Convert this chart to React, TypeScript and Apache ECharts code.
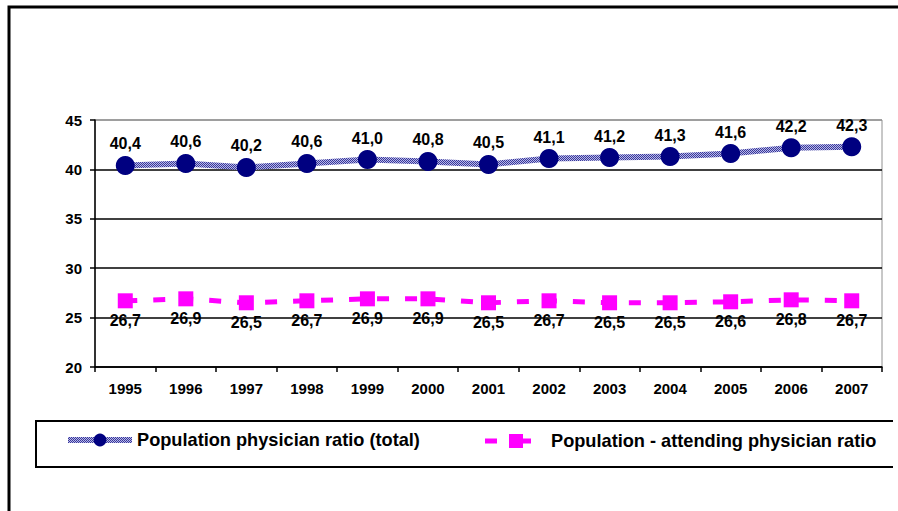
import React, { useEffect, useRef } from "react";
import * as echarts from "echarts";

const years = ["1995", "1996", "1997", "1998", "1999", "2000", "2001", "2002", "2003", "2004", "2005", "2006", "2007"];
const totalRatio = [40.4, 40.6, 40.2, 40.6, 41.0, 40.8, 40.5, 41.1, 41.2, 41.3, 41.6, 42.2, 42.3];
const attendingRatio = [26.7, 26.9, 26.5, 26.7, 26.9, 26.9, 26.5, 26.7, 26.5, 26.5, 26.6, 26.8, 26.7];
const seriesNames = ["Population physician ratio (total)", "Population - attending physician ratio"];

const FONT = 'Arial, "Liberation Sans", sans-serif';
const fmt = (p: any) => Number(p.value).toFixed(1).replace(".", ",");

function makePattern(): any {
  const c = document.createElement("canvas");
  c.width = 2;
  c.height = 2;
  const ctx = c.getContext("2d");
  if (!ctx) return "#9a9ad0";
  ctx.fillStyle = "#b8b8e8";
  ctx.fillRect(0, 0, 2, 2);
  ctx.fillStyle = "#38389a";
  ctx.fillRect(0, 0, 1, 1);
  ctx.fillRect(1, 1, 1, 1);
  return { image: c.toDataURL(), repeat: "repeat" };
}

export default function App() {
  const ref = useRef<HTMLDivElement>(null);
  useEffect(() => {
    if (!ref.current) return;
    const chart = echarts.init(ref.current, null, { renderer: "svg" });
    const pattern = makePattern();
    chart.setOption({
      animation: false,
      backgroundColor: "#ffffff",
      grid: { left: 95, right: 16, top: 120, bottom: 144, show: true, borderColor: "#909090", borderWidth: 1, backgroundColor: "transparent" },
      xAxis: {
        type: "category",
        data: years,
        boundaryGap: true,
        axisLine: { lineStyle: { color: "#000", width: 1.5 } },
        axisTick: { show: true, length: 5, lineStyle: { color: "#000", width: 1.5 } },
        axisLabel: { color: "#000", fontFamily: FONT, fontWeight: "bold", fontSize: 15, margin: 14 },
      },
      yAxis: {
        type: "value",
        min: 20,
        max: 45,
        interval: 5,
        axisLine: { show: true, lineStyle: { color: "#000", width: 1.5 } },
        axisTick: { show: true, length: 5, lineStyle: { color: "#000", width: 1.5 } },
        axisLabel: { color: "#000", fontFamily: FONT, fontWeight: "bold", fontSize: 15, margin: 13 },
        splitLine: { show: true, lineStyle: { color: ["#000", "#000", "#000", "#000", "#000", "#909090"], width: 1.5 } },
      },
      legend: [
        {
          data: [{ name: seriesNames[0], lineStyle: { width: 6, color: pattern } }],
          left: 60,
          top: 426,
          itemWidth: 64,
          itemHeight: 16,
          textStyle: { color: "#000", fontFamily: FONT, fontWeight: "bold", fontSize: 18.2 },
        },
        {
          data: [{ name: seriesNames[1], icon: "path://M0,4.5h12v5h-12z M24,0h14v14h-14z M38,4.5h8v5h-8z" }],
          left: 480,
          top: 427,
          itemWidth: 46,
          itemHeight: 14,
          itemStyle: { color: "#ff00ff" },
          textStyle: { color: "#000", fontFamily: FONT, fontWeight: "bold", fontSize: 18.2, padding: [0, 0, 0, 15] },
        },
      ],
      graphic: [
        { type: "polyline", shape: { points: [[9, 520], [9, 7], [905, 7]] }, style: { stroke: "#000", lineWidth: 3, fill: "none" }, silent: true },
        { type: "polyline", shape: { points: [[893, 421], [36, 421], [36, 467], [893, 467]] }, style: { stroke: "#000", lineWidth: 2, fill: "none" }, silent: true },
      ],
      series: [
        {
          name: seriesNames[0],
          type: "line",
          data: totalRatio,
          symbol: "circle",
          symbolSize: 19,
          itemStyle: { color: "#000080" },
          lineStyle: { width: 6, color: pattern },
          label: { show: true, position: "top", distance: 4, formatter: fmt, color: "#000", fontFamily: FONT, fontWeight: "bold", fontSize: 16 },
          z: 3,
        },
        {
          name: seriesNames[1],
          type: "line",
          data: attendingRatio,
          symbol: "rect",
          symbolSize: 15,
          itemStyle: { color: "#ff00ff" },
          lineStyle: { width: 5, color: "#ff00ff", type: [12, 16] },
          label: { show: true, position: "bottom", distance: 4, formatter: fmt, color: "#000", fontFamily: FONT, fontWeight: "bold", fontSize: 16 },
          z: 3,
        },
      ],
    });
    return () => chart.dispose();
  }, []);
  return <div ref={ref} style={{ position: "fixed", left: 0, top: 0, width: 898, height: 511 }} />;
}
